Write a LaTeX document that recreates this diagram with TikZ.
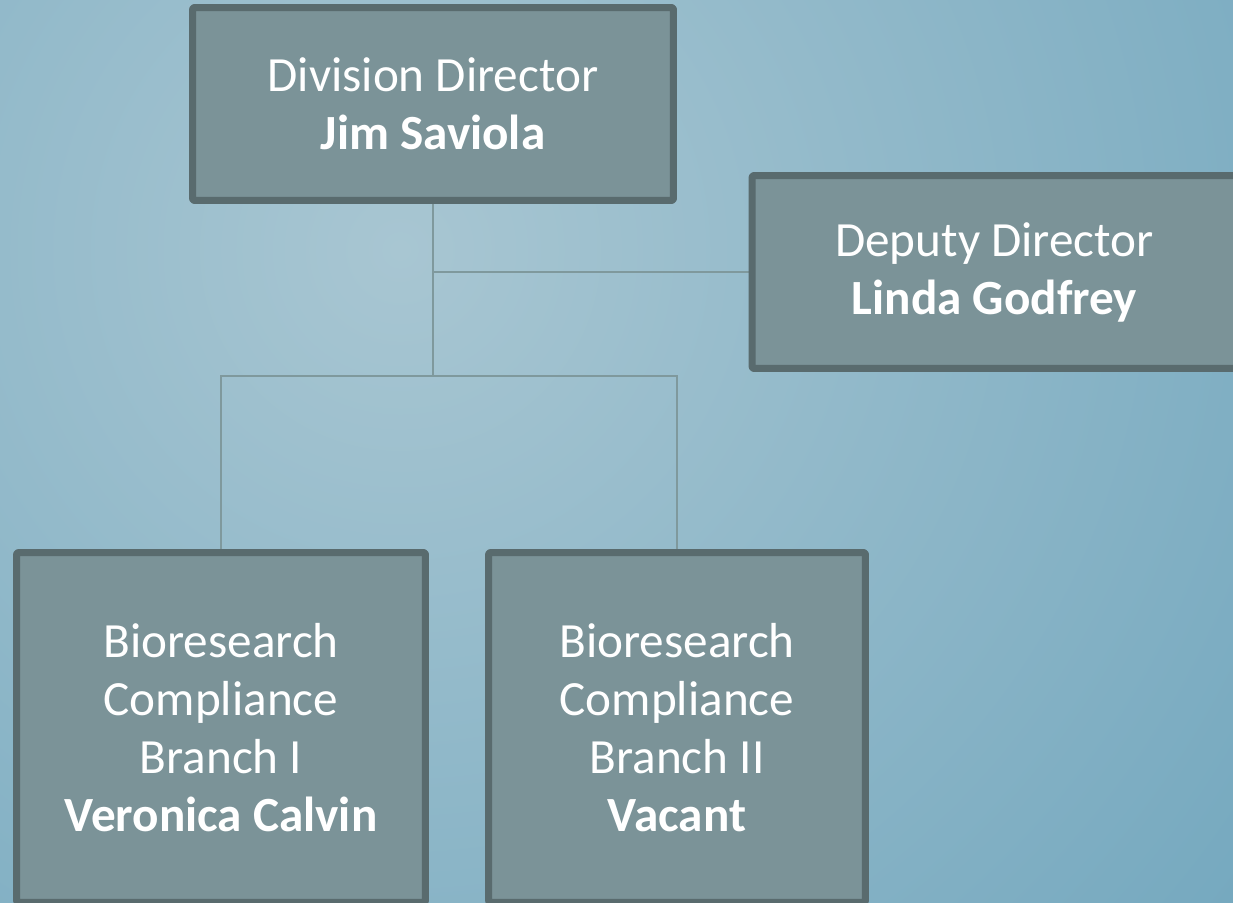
\documentclass[tikz,border=0pt]{standalone}
\usepackage{fontspec}
\setmainfont{Carlito}
\definecolor{bgLight}{HTML}{A8C6D2}
\definecolor{bgDark}{HTML}{68A1BA}
\definecolor{boxFill}{HTML}{7B9398}
\definecolor{boxEdge}{HTML}{596B6E}
\definecolor{linkLine}{HTML}{7F999D}
\pgfdeclarelayer{back}
\pgfdeclarelayer{links}
\pgfsetlayers{back,links,main}
\begin{document}
\begin{tikzpicture}[x=0.02cm,y=-0.02cm,line join=round,
	person/.style={rectangle,draw=boxEdge,line width=3.98pt,fill=boxFill,rounded corners=0.04cm,
		inner sep=0pt,outer sep=0pt,minimum height=3.86cm,align=center,text=white,
		font=\fontsize{28}{33}\selectfont},
	link/.style={draw=linkLine,line width=0.85pt}]
		\useasboundingbox (0,0) rectangle (1233,902);
		\begin{pgfonlayer}{back}
		\clip (0,0) rectangle (1233,902);
		\shade[inner color=bgLight,outer color=bgDark] (400,250) circle (27cm);
		\end{pgfonlayer}
		\node[person,minimum width=9.62cm] (dir) at (433,104) {Division Director\\\textbf{Jim Saviola}};
		\node[person,minimum width=9.7cm] (dep) at (994.5,272) {Deputy Director\\\textbf{Linda Godfrey}};
		\node[person,minimum width=8.18cm,minimum height=7cm] (brI) at (221,727.5) {Bioresearch\\Compliance\\Branch I\\\textbf{Veronica Calvin}};
		\node[person,minimum width=7.54cm,minimum height=7cm] (brII) at (677,727.5) {Bioresearch\\Compliance\\Branch II\\\textbf{Vacant}};
		\coordinate (split) at (433,376);
		\begin{pgfonlayer}{links}
		\draw[link] (dir.south) -- (split);
		\draw[link] (dir.south |- dep.west) -- (dep.west);
		\draw[link] (brI.north) |- (split) -| (brII.north);
		\end{pgfonlayer}
\end{tikzpicture}
\end{document}
